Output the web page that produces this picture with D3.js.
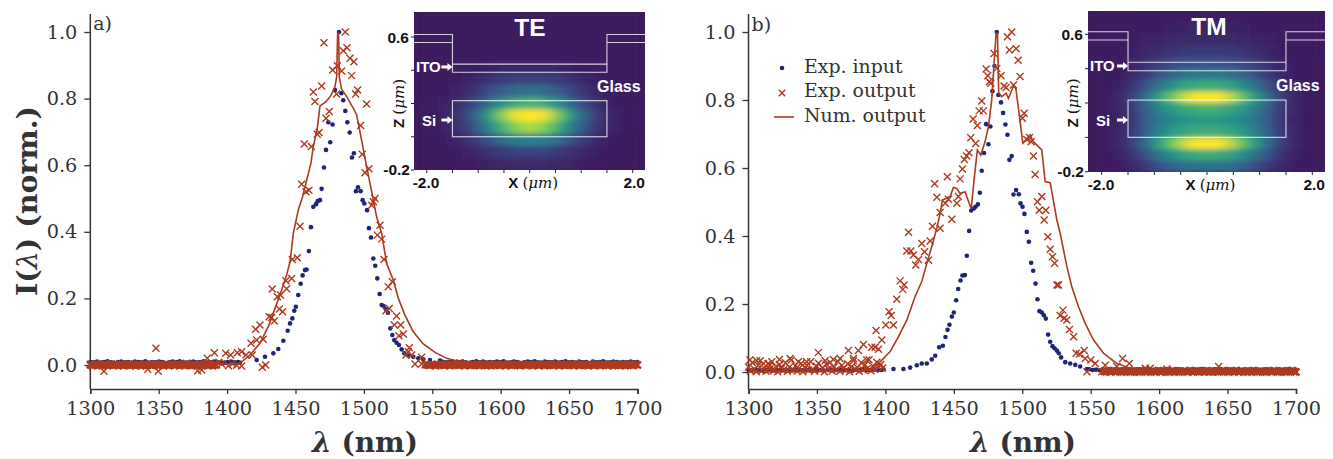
<!DOCTYPE html>
<html><head><meta charset="utf-8">
<script src="https://cdnjs.cloudflare.com/ajax/libs/d3/7.8.5/d3.min.js"></script>
<style>html,body{margin:0;padding:0;background:#fff}svg{display:block}</style></head>
<body><div id="c"></div>
<script>
// ---------- DATA ----------
const wavelengthTicks=[1300,1350,1400,1450,1500,1550,1600,1650,1700];
const intensityTicks=[0,0.2,0.4,0.6,0.8,1.0];
const legendLabels=["Exp. input","Exp. output","Num. output"];

const inputAPeak=[[1409.4,.007],[1421.6,.015],[1427.7,.025],[1433.8,.035],[1437.4,.048],[1441.1,.073],[1444.3,.103],[1446,.125],[1447.7,.14],[1449.1,.163],[1450.3,.175],[1452,.21],[1453.8,.244],[1455.2,.269],[1456.9,.285],[1458.1,.287],[1459.8,.342],[1461.3,.414],[1463,.475],[1465,.483],[1466.2,.492],[1467.9,.495],[1469.1,.529],[1470.8,.593],[1472.3,.646],[1475.4,.669],[1474,.729],[1477.1,.722],[1478.9,.826],[1481.8,1.0],[1483.5,.816],[1484.9,.795],[1486.4,.763],[1487.9,.729],[1489.6,.698],[1492.7,.636],[1491.3,.623],[1495.7,.534],[1494.2,.522],[1497.6,.522],[1499.1,.495],[1500.3,.485],[1502.3,.465],[1503.7,.411],[1505.2,.383],[1506.9,.32],[1508.3,.298],[1509.8,.26],[1511.5,.213],[1513,.18],[1514.4,.177],[1516.1,.167],[1517.6,.157],[1519.3,.11],[1520.8,.09],[1522.2,.075],[1523.9,.067],[1525.6,.06],[1527.6,.047],[1529.5,.035],[1532.5,.028],[1536.1,.025],[1539.8,.02],[1543.4,.017],[1548.3,.015],[1555.6,.013]];
const inputATailLeft=[9,8,10,7,9,11,8,6,9,10,8,9,7,10,9,8,11,7,9,8,10,9,6,8,10,9,11,8,7,9,10,8,9,11,7,8,10,9,8,7,9,10,8,9];
const inputATailRight=[10,8,9,11,7,9,10,8,6,9,11,8,10,7,9,8,10,9,11,7,8,10,9,6,8,10,9,11,8,7,10,9,8,10,7,9,11,8,9,7,10,8,9,6,10,8,9,11,7,8,10,9,7,9,8,10,8,9];
const outputAPeak=[[1394,.008],[1396,.003],[1401,-.002],[1404,.004],[1407,-.001],[1310,-.019],[1348,.05],[1342,-.013],[1349.7,-.019],[1370.4,.005],[1378.5,-.017],[1381.4,-.015],[1385.5,.02],[1390.7,.037],[1399,.035],[1402.6,.03],[1407.5,.037],[1410.6,.04],[1410.6,-.003],[1413.8,.03],[1418.4,.03],[1425.7,-.007],[1428.2,0],[1417.5,.065],[1421.6,.075],[1420.9,.107],[1424,.12],[1426.4,.077],[1430.8,.145],[1432.6,.143],[1434.5,.132],[1438.2,.168],[1440.6,.16],[1433,.228],[1436.7,.205],[1439.1,.21],[1443.5,.229],[1443,.253],[1447.2,.26],[1447.7,.317],[1451.3,.322],[1453.3,.417],[1454.5,.543],[1457.7,.52],[1459.8,.525],[1456.4,.664],[1461.6,.656],[1465.9,.693],[1467.2,.698],[1472.3,.741],[1474.7,.761],[1464.2,.791],[1463,.82],[1469.1,.838],[1480,.814],[1477.1,.886],[1480.6,.899],[1483.7,.883],[1470.8,.968],[1486.4,1.0],[1487.6,.953],[1484.9,.944],[1489.8,.921],[1492.7,.911],[1491,.869],[1495.4,.826],[1494,.814],[1502,.784],[1497.6,.719],[1498.8,.633],[1503.7,.589],[1500.8,.577],[1508.1,.5],[1506.9,.49],[1505.7,.48],[1511.8,.42],[1509.8,.39],[1513,.378],[1514.7,.317],[1520.8,.25],[1517.8,.235],[1518.6,.17],[1516.1,.163],[1523.9,.147],[1522.2,.12],[1526.9,.12],[1528.8,.093],[1525.6,.088],[1533.2,.052],[1532.5,.04],[1530.8,.03],[1534.9,.03],[1542.2,.023],[1537.3,.003],[1542.2,.003],[1570.2,.007]];
const outputATailLeft=[1,-2,0,2,-1,1,0,-2,2,0,-1,1,3,-2,0,1,-1,2,0,-2,1,0,2,-1,0,1,-3,2,0,-1,1,2,-2,0,1,-1,0,2,1,-2,0,1,-1,2,0,-2,1,3,-1,0,2,-2,1,0,-1,2,0,1,-2,1,0,-1,2,0,-2,1,3,0,-1,2,-2,1,0];
const outputATailRight=[1,0,-1,2,0,-2,1,0,2,-1,1,0,-2,2,0,1,-1,0,2,-2,1,0,-1,2,0,1,-2,0,1,2,-1,0,-2,1,0,2,-1,1,0,-2,2,0,-1,1,2,0,-2,1,0,-1,2,1,-2,0,1,-1,2,0,-2,1,0,2,-1,0,1,-2,2,0,-1,1,0,2,-2,1,0,-1,2,0,1,-2,1,0,-1,2,0,-2,1,2,0,-1,1,-2,0,2,1,-1,0,-2,2,1,0,-1,2,0];
const numericalA=[[1300,0],[1380,.001],[1400,.003],[1409.4,.005],[1416.7,.03],[1424,.065],[1430.1,.115],[1435,.17],[1439.9,.225],[1443.5,.27],[1446,.31],[1448.4,.395],[1452,.465],[1455.2,.506],[1461.3,.606],[1463,.656],[1465.9,.71],[1467.9,.778],[1472.3,.791],[1475.7,.808],[1478.9,.836],[1480.1,.866],[1480.8,.996],[1481.5,.996],[1482,.866],[1483.7,.828],[1487.4,.806],[1492.3,.771],[1494.7,.751],[1497.1,.701],[1502,.596],[1505.7,.52],[1509.3,.445],[1513,.395],[1516.6,.305],[1521.5,.255],[1525.2,.2],[1530,.15],[1536.1,.1],[1543.4,.063],[1552,.038],[1560.5,.02],[1570.2,.01],[1584.9,.006],[1604,.005],[1700,.004]];

const inputBPeak=[[1398.6,.008],[1405.9,.009],[1413.2,.009],[1418.1,.013],[1423,.02],[1426.6,.025],[1430.3,.025],[1433.9,.037],[1436.4,.048],[1439.3,.073],[1442,.077],[1443.9,.103],[1445.4,.124],[1446.8,.139],[1448.6,.163],[1450,.175],[1451.7,.211],[1453.2,.244],[1454.9,.269],[1456.3,.284],[1458.1,.285],[1459.5,.342],[1461.2,.415],[1462.7,.475],[1464.6,.481],[1465.9,.486],[1467.6,.493],[1469,.527],[1470.4,.592],[1472.1,.644],[1475.3,.67],[1473.6,.729],[1476.7,.722],[1478.2,.826],[1479.7,.9],[1481.4,1.0],[1482.6,.815],[1484.5,.793],[1486,.762],[1487.7,.728],[1489.2,.698],[1492.3,.635],[1490.6,.624],[1495.5,.535],[1493.6,.522],[1497.5,.523],[1498.7,.496],[1500.2,.486],[1501.6,.465],[1503.3,.412],[1504.8,.383],[1506.5,.321],[1508,.298],[1509.7,.26],[1511.1,.214],[1512.6,.179],[1514.3,.175],[1515.8,.167],[1517.2,.157],[1518.9,.11],[1520.4,.089],[1522.1,.076],[1523.6,.07],[1525.3,.063],[1526.7,.055],[1528.4,.043],[1531.4,.029],[1535,.025],[1538.7,.021],[1542.3,.016],[1547.2,.009]];
const inputBTailLeft=[6,5,7,6,4,6,7,5,6,8,5,6,4,7,6,5,7,6,5,8,6,4,6,7,5,6,7,5,6,4,7,6,8,5,6,7,5,6];
const inputBTailRight=[8,6,7,5,8,6,9,7,5,6,8,7,6,5,8,7,9,6,7,5,8,6,7,9,5,6,8,7,6,5,7,8,6,9,7,5,6,8,7,6,5,8,7,6,9,5,7,6,8,7,5,6,8,7,6,5,8,6,7,9,5,6];
const outputBPeak=[[1384,.081],[1386.4,.035],[1390,.073],[1392.5,.073],[1395,.067],[1393.2,.122],[1397.4,.094],[1400.3,.138],[1402.7,.177],[1404.2,.166],[1405.9,.138],[1408.3,.214],[1410.8,.268],[1412.7,.243],[1413.7,.256],[1416.9,.411],[1415.7,.356],[1418.6,.356],[1420.5,.344],[1422.2,.315],[1424.2,.331],[1426.6,.378],[1428.6,.354],[1431.5,.329],[1432.7,.385],[1434.4,.429],[1440,.423],[1440,.469],[1437.6,.514],[1443.7,.496],[1446.1,.508],[1448.5,.449],[1452.2,.496],[1453.4,.516],[1436,.554],[1445.3,.574],[1454.6,.568],[1456.3,.597],[1457.7,.625],[1459.4,.635],[1461.1,.645],[1462.4,.689],[1466,.672],[1467.2,.725],[1464.1,.744],[1468.5,.768],[1471.6,.768],[1470.4,.797],[1476,.854],[1477,.849],[1473.6,.891],[1474.8,.871],[1479.4,.937],[1481.4,.893],[1484.5,.871],[1486.7,.841],[1488.2,.837],[1493.6,.844],[1498.4,.869],[1489.2,.986],[1492.3,1.0],[1490.6,.947],[1495.5,.951],[1497,.917],[1501.4,.761],[1500.1,.746],[1505.3,.69],[1503.3,.684],[1506.5,.677],[1508.2,.635],[1509.4,.581],[1514.3,.516],[1511.1,.501],[1512.4,.476],[1517.2,.476],[1516,.447],[1518.7,.398],[1520.4,.361],[1522.1,.339],[1523.6,.32],[1525.3,.256],[1526.5,.256],[1529.7,.182],[1527.7,.166],[1530.6,.158],[1532.6,.153],[1534.5,.125],[1537.5,.104],[1539.4,.055],[1541.8,.053],[1545.3,.063],[1546,.04],[1550.1,.035],[1553.3,.025],[1560.6,.02],[1573.3,.04],[1578.2,.025],[1547.2,.001],[1558.2,.001],[1569.1,.016],[1589.9,.011],[1593.5,.011],[1605.7,.009],[1643.5,.016],[1301,.035],[1306,.033],[1310.9,.025],[1315.7,.02],[1322.6,.037],[1330.4,.04],[1336.4,.03],[1342.5,.03],[1351,.057],[1356,.033],[1362,.037],[1366.9,.04],[1373,.063],[1380.3,.063],[1376.7,.04]];
const outputBTailLeft=[15,3,28,8,1,20,33,5,12,2,24,9,30,4,16,1,22,11,6,27,2,14,35,7,18,3,10,25,1,13,20,5,30,8,2,17,26,6,12,1,23,9,28,3,15,7,31,2,19,11,5,24,1,16,33,8,13,2,27,6,21,10,36,4,18,9,29,14,22,12];
const outputBTailRight=[2,1,3,0,2,4,1,3,2,0,1,3,2,4,0,2,1,3,1,0,2,3,4,1,2,0,3,1,2,4,0,1,3,2,1,0,2,4,1,3,0,2,1,3,2,0,4,1,2,3,1,0,2,3,1,4,0,2,1,3,2,0,1,3,4,2,1,0,3,2,1,4,0,2,3,1,2,0,3,1,4,2,0,1,3,2,1,0,2,3,1,4,2,0,1,3,2,1,0,3,2,4,1,0];
const numericalB=[[1300,0],[1380,.002],[1388.8,.006],[1396.2,.03],[1403.5,.06],[1409.6,.104],[1415.7,.153],[1421.7,.222],[1426.6,.266],[1430.3,.32],[1433.9,.369],[1437.6,.423],[1440,.467],[1441.7,.506],[1447.3,.516],[1449.7,.543],[1452.1,.54],[1454.6,.525],[1458.2,.53],[1462.7,.48],[1464.8,.565],[1467.2,.653],[1469.7,.638],[1472.8,.677],[1475.3,.722],[1477.7,.8],[1479.4,.908],[1480.9,.996],[1481.9,.996],[1482.8,.82],[1485,.81],[1488.2,.82],[1489.9,.805],[1493.6,.841],[1495.3,.834],[1498,.751],[1500.4,.673],[1505.7,.697],[1508.2,.677],[1511.8,.663],[1514.3,.653],[1516.7,.56],[1520.4,.557],[1521.6,.53],[1525.3,.447],[1527.7,.408],[1532.6,.31],[1536.2,.251],[1541.1,.192],[1546,.143],[1552.1,.094],[1559.4,.055],[1569.1,.025],[1578.9,.011],[1591,.003],[1625,.001],[1700,.001]];

// inset mode fields (percent of peak, rows top to bottom)
const fieldTE=[
[0,0,0,0,0,0,0,0,0,0,0,0,0,0,0,0,0,0,0],
[0,0,0,0,0,0,0,0,0,0,0,0,0,0,0,0,0,0,0],
[0,0,0,0,0,0,0,0,0,0,0,0,0,0,0,0,0,0,0],
[0,0,0,0,0,0,1,1,1,1,1,1,1,0,0,0,0,0,0],
[0,0,0,1,1,2,4,5,5,5,5,5,3,2,1,0,0,0,0],
[0,0,1,2,4,7,12,15,17,17,17,15,12,7,4,2,1,0,0],
[0,0,2,4,8,16,25,32,36,38,36,32,24,16,8,3,1,0,0],
[0,1,3,7,15,27,42,54,63,66,63,54,40,27,15,6,2,1,0],
[0,1,4,10,22,40,62,82,96,100,96,82,60,40,22,9,3,1,0],
[0,1,3,9,19,33,52,68,80,85,80,68,50,33,19,8,3,1,0],
[0,0,2,5,10,18,29,38,43,45,43,38,28,18,10,4,1,0,0],
[0,0,1,2,4,8,13,16,18,18,18,16,12,8,4,2,1,0,0],
[0,0,0,1,2,3,5,6,7,7,7,6,5,3,2,1,0,0,0]];
const fieldTM=[
[0,0,0,0,1,1,2,2,2,3,2,2,2,1,1,0,0,0,0],
[0,0,0,1,1,2,3,4,5,5,5,4,3,2,1,1,0,0,0],
[0,0,1,1,3,4,6,7,8,8,8,7,6,4,3,1,1,0,0],
[0,0,1,2,5,8,11,13,14,14,14,13,11,8,5,2,1,0,0],
[0,1,2,4,9,15,20,24,25,26,25,24,20,15,9,4,2,1,0],
[0,1,2,6,14,23,32,38,41,42,41,38,32,23,14,6,2,1,0],
[0,1,3,10,22,36,48,56,60,62,60,56,48,36,22,10,3,1,0],
[0,1,5,16,33,52,70,85,96,100,96,85,70,52,33,16,5,1,0],
[0,1,5,14,28,42,52,58,62,64,62,58,52,42,28,14,5,1,0],
[0,1,4,12,26,38,46,50,53,54,53,50,46,38,26,12,4,1,0],
[0,1,5,14,28,42,52,58,61,62,61,58,52,42,28,14,5,1,0],
[0,1,5,16,33,52,70,85,96,100,96,85,70,52,33,16,5,1,0],
[0,1,3,10,22,36,48,56,60,62,60,56,48,36,22,10,3,1,0],
[0,1,2,5,13,22,30,36,38,39,38,36,30,22,13,5,2,1,0]];
// device outline, micrometres
const stepTopZ=[0.615,0.567], itoZ=[0.437,0.388], siZ=[0.217,0], ridgeX=[-1.5,1.5];
const insetXTicks=[-2,-1.5,-1,-.5,0,.5,1,1.5,2], insetZTicks=[.6,.4,.2,0,-.2];

// ---------- DRAWING ----------
const W=1333,H=459,blue="#1c2678",rust="#ad3a1f",ink="#333";
const svg=d3.select("#c").append("svg").attr("width",W).attr("height",H);
const defs=svg.append("defs");
defs.append("filter").attr("id","soft").attr("x","-10%").attr("y","-10%").attr("width","120%").attr("height","120%")
  .append("feGaussianBlur").attr("stdDeviation","7 2.8");
const serif="'DejaVu Serif',serif", sans="'Liberation Sans',Arial,sans-serif";
const tail=(vals,a,b)=>vals.map((v,i)=>[a+i*(b-a)/(vals.length-1),v/1000]);
const cross="M-3.5,-3.5L3.5,3.5M-3.5,3.5L3.5,-3.5";

function panel(o){
  const x=d3.scaleLinear().domain([1300,1700]).range(o.xr);
  const y=d3.scaleLinear().domain([0,1]).range(o.yr);
  const bottom=o.bottom, top=14;
  const g=svg.append("g");
  const ax=g.append("g").attr("transform",`translate(0,${bottom})`).call(d3.axisBottom(x).tickValues(wavelengthTicks).tickSize(5).tickPadding(7).tickFormat(d3.format("d")));
  const ay=g.append("g").attr("transform",`translate(${o.xr[0]},0)`).call(d3.axisLeft(y).tickValues(intensityTicks).tickSize(6).tickPadding(7).tickFormat(d3.format(".1f")));
  ay.select(".domain").attr("d",`M0,${bottom}V${top}`);
  [ax,ay].forEach(a=>{a.select(".domain").attr("stroke",ink).attr("stroke-width",1.5);
    a.selectAll(".tick line").attr("stroke",ink).attr("stroke-width",1.3);
    a.selectAll("text").attr("font-family",serif).attr("font-size",19.3).attr("fill",ink);});
  const lbl=g.append("text").attr("x",o.labelX).attr("y",452).attr("text-anchor","middle")
    .attr("font-family",serif).attr("font-weight","bold").attr("font-size",28).attr("fill",ink);
  lbl.append("tspan").attr("font-style","italic").text("λ");lbl.append("tspan").text(" (nm)");
  g.append("text").attr("x",o.xr[0]+3).attr("y",o.tagY).attr("font-family",serif).attr("font-size",19).attr("fill",ink).text(o.tag);
  g.append("g").selectAll("circle").data(o.input).join("circle").attr("cx",d=>x(d[0])).attr("cy",d=>y(d[1])).attr("r",2.3).attr("fill",blue);
  const marks=(data,w)=>g.append("g").selectAll("path").data(data).join("path").attr("d",cross).attr("transform",d=>`translate(${x(d[0])},${y(d[1])})`).attr("fill","none").attr("stroke",rust).attr("stroke-width",w);
  marks(o.output,1.4); marks(o.band,2.3);
  g.append("path").datum(o.num).attr("d",d3.line().x(d=>x(d[0])).y(d=>y(d[1]))).attr("fill","none").attr("stroke",rust).attr("stroke-width",1.6);
  return {x,y};
}

const color=d3.scaleLinear().domain([0,25,50,74,94]).range(["#3c1a5f","#3b528b","#21918c","#5ec962","#fde725"]).clamp(true);

function inset(o){
  const g=svg.append("g");
  const id="clip"+o.title;
  defs.append("clipPath").attr("id",id).append("rect").attr("x",o.x0).attr("y",o.y0).attr("width",o.x1-o.x0).attr("height",o.y1-o.y0);
  const cols=o.field[0].length, rows=o.field.length;
  const cx=d3.scaleBand().domain(d3.range(cols)).range([o.x0,o.x1]);
  const cy=d3.scaleBand().domain(d3.range(rows)).range([o.y0,o.y1]);
  const h=g.append("g").attr("clip-path",`url(#${id})`);
  h.append("rect").attr("x",o.x0).attr("y",o.y0).attr("width",o.x1-o.x0).attr("height",o.y1-o.y0).attr("fill",color(0));
  h.append("g").attr("filter","url(#soft)").selectAll("g").data(o.field).join("g").attr("transform",(d,j)=>`translate(0,${cy(j)})`)
    .selectAll("rect").data(d=>d).join("rect").attr("x",(d,i)=>cx(i)).attr("width",cx.bandwidth()+.5).attr("height",cy.bandwidth()+.5).attr("fill",d=>color(d));
  const X=d3.scaleLinear().domain([-2,2]).range(o.xr), Z=d3.scaleLinear().domain([.6,-.2]).range(o.zr);
  const ow=g.append("g").attr("fill","none").attr("stroke","#fff").attr("stroke-opacity",.8).attr("stroke-width",1.1);
  const L=X(ridgeX[0]),R=X(ridgeX[1]);
  ow.append("path").attr("d",`M${o.x0},${Z(stepTopZ[0])}H${L}V${Z(itoZ[1])}H${R}V${Z(stepTopZ[0])}H${o.x1}`);
  ow.append("path").attr("d",`M${o.x0},${Z(stepTopZ[1])}H${L}M${L},${Z(itoZ[0])}H${R}M${R},${Z(stepTopZ[1])}H${o.x1}`);
  ow.append("rect").attr("x",L).attr("y",Z(siZ[0])).attr("width",R-L).attr("height",Z(siZ[1])-Z(siZ[0]));
  const tick=g.append("g").attr("stroke","#222").attr("stroke-width",1);
  insetXTicks.forEach(t=>tick.append("line").attr("x1",X(t)).attr("x2",X(t)).attr("y1",o.y1).attr("y2",o.y1+3));
  insetZTicks.forEach(t=>tick.append("line").attr("y1",Z(t)).attr("y2",Z(t)).attr("x1",o.x0-3).attr("x2",o.x0));
  const T=(x,y,s,size,fill,anchor)=>g.append("text").attr("x",x).attr("y",y).attr("font-family",sans).attr("font-weight","bold").attr("font-size",size).attr("fill",fill).attr("text-anchor",anchor||"start").text(s);
  T(o.titleX,o.titleY,o.title,24.5,"#fff","middle");
  T(o.x0+2,o.itoY+5,"ITO",15,"#fff");
  T(o.x0+8,o.siY+5.5,"Si",15,"#fff");
  T(o.glassX,o.glassY,"Glass",16,"#fff");
  [o.itoY,o.siY].forEach(yy=>g.append("path").attr("d",`M${L-11},${yy-1.6}H${L-5}V${yy-4}L${L},${yy}L${L-5},${yy+4}V${yy+1.6}H${L-11}Z`).attr("fill","#fff"));
  T(o.x0-5,Z(.6)+5.5,"0.6",15.5,"#111","end");
  T(o.x0-4,Z(-.2)+5,"-0.2",15.5,"#111","end");
  T(o.xr[0]-14,o.y1+18,"-2.0",15.5,"#111");
  T(o.x1,o.y1+18,"2.0",15.5,"#111","end");
  const xl=T((o.xr[0]+o.xr[1])/2+3.5,o.y1+18,"X ",15,"#111","middle");
  xl.append("tspan").attr("font-family",serif).attr("font-weight","normal").attr("font-size",15).text("(");
  xl.append("tspan").attr("font-family",serif).attr("font-style","italic").attr("font-size",15).attr("font-weight","normal").text("μm");
  xl.append("tspan").attr("font-family",serif).attr("font-weight","normal").attr("font-size",15).text(")");
  const zl=g.append("text").attr("transform",`translate(${o.x0-10},${(Z(.6)+Z(-.2))/2}) rotate(-90)`).attr("text-anchor","middle").attr("font-family",sans).attr("font-weight","bold").attr("font-size",15).attr("fill","#111").text("Z ");
  zl.append("tspan").attr("font-family",serif).attr("font-weight","normal").attr("font-size",15).text("(");
  zl.append("tspan").attr("font-family",serif).attr("font-style","italic").attr("font-weight","normal").attr("font-size",15).text("μm");
  zl.append("tspan").attr("font-family",serif).attr("font-weight","normal").attr("font-size",15).text(")");
}

panel({xr:[90.3,637.5],yr:[365,32],bottom:389,labelX:365,tag:"a)",tagY:30,
  input:[...tail(inputATailLeft,1300,1408),...inputAPeak,...tail(inputATailRight,1557,1700)],
  output:outputAPeak,band:[...tail(outputATailLeft,1300,1392),...tail(outputATailRight,1545,1700)],num:numericalA});
panel({xr:[748.5,1296],yr:[372,32],bottom:389,labelX:1023,tag:"b)",tagY:31,
  input:[...tail(inputBTailLeft,1300,1397),...inputBPeak,...tail(inputBTailRight,1549,1700)],
  output:[...tail(outputBTailLeft,1300,1398),...outputBPeak],band:tail(outputBTailRight,1560,1700),num:numericalB});

// y title (left panel)
const yt=svg.append("text").attr("transform","translate(36.5,201) rotate(-90)").attr("text-anchor","middle").attr("font-family",serif).attr("font-weight","bold").attr("font-size",28.5).attr("fill",ink);
yt.append("tspan").text("I(");yt.append("tspan").attr("font-style","italic").attr("font-weight","normal").text("λ");yt.append("tspan").text(") (norm.)");

inset({title:"TE",field:fieldTE,x0:414,x1:645,y0:12,y1:170,xr:[426.7,632.7],zr:[37,170],titleX:530,titleY:36,itoY:67,siY:120,glassX:597,glassY:92});
inset({title:"TM",field:fieldTM,x0:1088,x1:1325,y0:11,y1:172,xr:[1101.7,1312.3],zr:[34.3,171.7],titleX:1209,titleY:35,itoY:66,siY:120,glassX:1276,glassY:91});

// legend
const lg=svg.append("g").attr("font-family",serif).attr("font-size",18.9).attr("fill",ink);
[72.7,97,121.7].forEach((yy,i)=>lg.append("text").attr("x",804).attr("y",yy).text(legendLabels[i]));
lg.append("circle").attr("cx",782).attr("cy",68).attr("r",2.3).attr("fill",blue);
lg.append("path").attr("d","M-3.2,-3.2L3.2,3.2M-3.2,3.2L3.2,-3.2").attr("transform","translate(782,93)").attr("fill","none").attr("stroke",rust).attr("stroke-width",1.4);
lg.append("line").attr("x1",774).attr("x2",794).attr("y1",117).attr("y2",117).attr("stroke",rust).attr("stroke-width",1.6);
</script></body></html>
